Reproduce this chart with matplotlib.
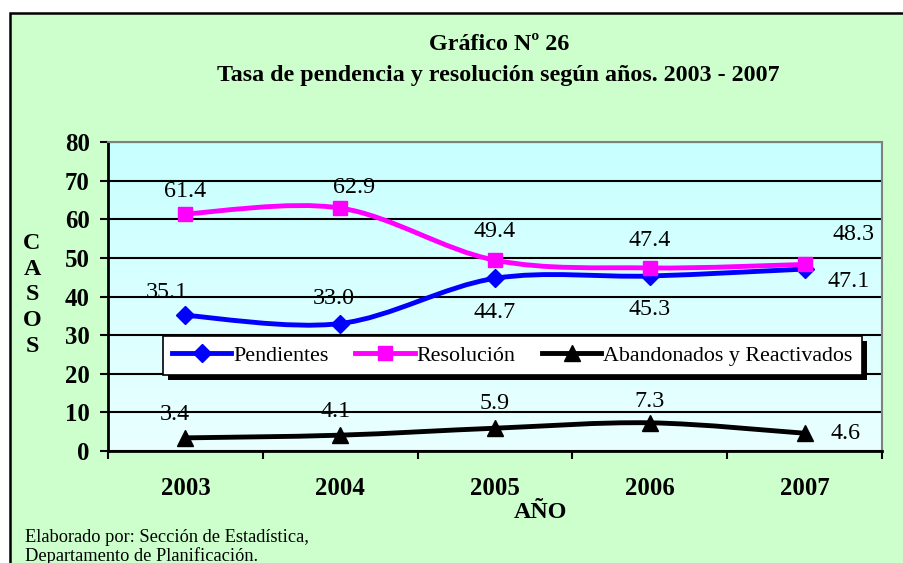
import numpy as np
import matplotlib
matplotlib.use('Agg')
import matplotlib.pyplot as plt
from matplotlib.patches import Rectangle, PathPatch
from matplotlib.path import Path
from matplotlib.lines import Line2D
from matplotlib.colors import LinearSegmentedColormap

# ---------------- data ----------------
years = ['2003', '2004', '2005', '2006', '2007']
pendientes = [35.1, 33.0, 44.7, 45.3, 47.1]
resolucion = [61.4, 62.9, 49.4, 47.4, 48.3]
abandonados = [3.4, 4.1, 5.9, 7.3, 4.6]
series_names = ['Pendientes', 'Resolución', 'Abandonados y Reactivados']
y_ticks = [0, 10, 20, 30, 40, 50, 60, 70, 80]
title_1 = 'Gráfico Nº 26'
title_2 = 'Tasa de pendencia y resolución según años. 2003 - 2007'
x_title = 'AÑO'
y_title = 'C\nA\nS\nO\nS'
footer_1 = 'Elaborado por: Sección de Estadística,'
footer_2 = 'Departamento de Planificación.'

# ---------------- style ----------------
plt.rcParams['font.family'] = ['Liberation Serif', 'DejaVu Serif']
W, H = 904, 563
FS = 17.3
LFS = 15.8
colors = ['#0000FF', '#FF00FF', '#000000']
markers = ['D', 's', '^']
msizes = [9, 10, 11]
# label offsets in pixels (dx, dy; dy positive = downwards)
offsets = [
    [(-19, -23), (-6, -25), (0, 34), (0, 33), (44, 12)],
    [(0, -22), (14, -21), (0, -29), (0, -27), (49, -30)],
    [(-11, -23), (-5, -24), (0, -25), (0, -21), (41, 0)],
]


def fx(px):
    return px / W


def fy(py):
    return 1 - py / H


fig = plt.figure(figsize=(W / 100, H / 100), dpi=100, facecolor='white')

# outer green frame
fig.patches.append(Rectangle((fx(10), -0.1), 1.0, fy(13) + 0.1, transform=fig.transFigure,
                             facecolor='#CCFFCC', edgecolor='black', linewidth=1.8, zorder=-10))

ax = fig.add_axes([fx(108), fy(451), fx(882) - fx(108), fy(142) - fy(451)])

# plot-area gradient
cmap = LinearSegmentedColormap.from_list('bg', ['#EAFFFF', '#C8FFFF'])
grad = np.linspace(0, 1, 256).reshape(-1, 1)
ax.imshow(grad, extent=(0, 1, 0, 1), transform=ax.transAxes, origin='lower',
          cmap=cmap, aspect='auto', zorder=0)
ax.set_xlim(-0.5, 4.5)
ax.set_ylim(0, 80)

ax.set_yticks(y_ticks)
ax.yaxis.grid(True, color='black', linewidth=1.5, zorder=1)
ax.set_axisbelow(True)
for t in ax.get_yticklabels():
    t.set_fontweight('bold')
ax.tick_params(axis='y', direction='out', length=6, width=1.5, pad=7, labelsize=FS + 0.5)

ax.set_xticks(np.arange(-0.5, 5, 1))
ax.set_xticks(range(len(years)), minor=True)
ax.set_xticklabels(years, minor=True, fontweight='bold')
ax.tick_params(axis='x', which='major', direction='out', length=6, width=1.5, labelbottom=False)
ax.tick_params(axis='x', which='minor', length=0, pad=19, labelsize=FS + 0.5)

for s in ['top', 'right']:
    ax.spines[s].set_color('#808080')
    ax.spines[s].set_linewidth(1.5)
for s in ['left', 'bottom']:
    ax.spines[s].set_color('black')
    ax.spines[s].set_linewidth(2)


def smooth_path(xs, ys):
    pts = np.column_stack([xs, ys]).astype(float)
    n = len(pts)
    verts = [pts[0]]
    codes = [Path.MOVETO]
    for i in range(n - 1):
        p0 = pts[max(i - 1, 0)]
        p1 = pts[i]
        p2 = pts[i + 1]
        p3 = pts[min(i + 2, n - 1)]
        c1 = p1 + (p2 - p0) / 6.0
        c2 = p2 - (p3 - p1) / 6.0
        verts += [c1, c2, p2]
        codes += [Path.CURVE4] * 3
    return Path(verts, codes)


xs = np.arange(len(years))
all_series = [pendientes, resolucion, abandonados]
handles = []
for k, vals in enumerate(all_series):
    patch = PathPatch(smooth_path(xs, vals), facecolor='none', edgecolor=colors[k],
                      linewidth=3.5, zorder=3, transform=ax.transData, capstyle='round')
    ax.add_patch(patch)
    ax.plot(xs, vals, linestyle='none', marker=markers[k], color=colors[k],
            markersize=msizes[k], zorder=4, clip_on=False)
    for i, v in enumerate(vals):
        dx, dy = offsets[k][i]
        ax.annotate(f'{v:.1f}', (xs[i], v), xytext=(dx, -dy), textcoords='offset pixels',
                    ha='center', va='center', fontsize=FS, color='black', zorder=5)
    handles.append(Line2D([0], [0], color=colors[k], linewidth=3.5, marker=markers[k],
                          markersize=msizes[k]))

# legend
leg = fig.legend(handles, series_names, loc='upper left', bbox_to_anchor=(fx(163), fy(336)),
                 bbox_transform=fig.transFigure, ncol=3, frameon=True, fancybox=False,
                 fontsize=LFS, handlelength=2.7, handletextpad=0.1, columnspacing=1.2,
                 borderpad=0.42, borderaxespad=0)
leg.get_frame().set_edgecolor('black')
leg.get_frame().set_linewidth(1.2)
leg.get_frame().set_facecolor('white')
leg.get_frame().set_alpha(1)
leg.set_zorder(6)

fig.canvas.draw()
bb = leg.get_window_extent()
sh = 5
fig.patches.append(Rectangle(((bb.x0 + sh) / W, (bb.y0 - sh) / H), bb.width / W, bb.height / H,
                             transform=fig.transFigure, facecolor='black', edgecolor='none',
                             zorder=5))

# titles and texts
fig.text(fx(499), fy(44), title_1, ha='center', va='center', fontsize=FS, fontweight='bold')
fig.text(fx(498), fy(75), title_2, ha='center', va='center', fontsize=FS, fontweight='bold')
fig.text(fx(540), fy(512), x_title, ha='center', va='center', fontsize=FS, fontweight='bold')
fig.text(fx(32), fy(295), y_title, ha='center', va='center', fontsize=FS, fontweight='bold',
         linespacing=1.3)
fig.text(fx(25), fy(538), footer_1, ha='left', va='center', fontsize=13.2)
fig.text(fx(25), fy(556), footer_2, ha='left', va='center', fontsize=13.2)

fig.savefig('out.png', dpi=100, facecolor=fig.get_facecolor())
